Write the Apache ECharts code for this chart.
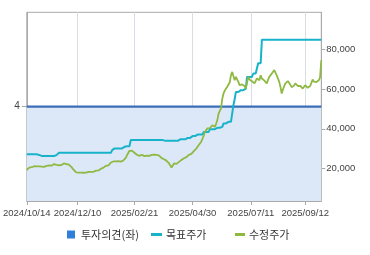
<!DOCTYPE html>
<html><head><meta charset="utf-8">
<script src="https://cdn.jsdelivr.net/npm/echarts@6/dist/echarts.min.js"></script>
<style>html,body{margin:0;padding:0;background:#fff}#c{width:370px;height:255px}</style>
</head><body><div id="c"></div>
<script>
// ---- data ----
const startDate = '2024-10-14';
const pointCount = 239;
const holidays = ['2024-12-25','2024-12-31','2025-01-01','2025-01-27','2025-01-28','2025-01-29','2025-01-30','2025-03-03','2025-05-01','2025-05-05','2025-05-06','2025-06-03','2025-06-06','2025-08-15'];
const tickLabels = ['2024/10/14','2024/12/10','2025/02/21','2025/04/30','2025/07/11','2025/09/12'];
const seriesNames = ['투자의견(좌)','목표주가','수정주가'];
const rightTicks = [20000,40000,60000,80000];
const leftTicks = [4];
const opinionValue = 4;
const targetPrice = [
27100,27100,27100,27100,27100,27100,27100,27100,27100,26800,
26800,26800,26300,26300,26300,26300,26300,26300,26300,26300,
26300,26300,26300,26700,26700,27500,27900,27900,27900,27900,
27900,27900,27900,27900,27900,27900,27900,27900,27900,27900,
27900,27900,27900,27900,27900,27900,27900,27900,27900,27900,
27900,27900,27900,27900,27900,27900,27900,27900,27900,27900,
27900,27900,27900,27900,27900,27900,27900,27900,27900,29200,
30100,30100,30100,30100,30100,30100,30100,30100,30100,30900,
30900,31200,31200,31200,34300,34300,34300,34300,34300,34300,
34300,34300,34300,34300,34300,34300,34300,34300,34300,34300,
34300,34300,34300,34300,34300,34300,34300,34300,34300,34300,
34300,34300,33900,33900,33900,33900,33900,33900,33900,33900,
33900,33900,33900,34700,34700,34700,34700,34700,34700,35400,
35400,35400,35400,35400,36300,36300,36300,36300,37100,37100,
37100,37100,37100,38400,38400,38400,38400,38400,39800,39800,
39800,39800,39800,40500,40500,40500,40500,41000,41000,42700,
42700,42700,42700,43500,43500,43500,44400,51900,55000,58600,
58600,58600,58600,59500,59500,59500,59500,60300,66200,66200,
66200,66200,66200,67900,67900,67900,67900,73100,73100,73100,
85000,85000,85000,85000,85000,85000,85000,85000,85000,85000,
85000,85000,85000,85000,85000,85000,85000,85000,85000,85000,
85000,85000,85000,85000,85000,85000,85000,85000,85000,85000,
85000,85000,85000,85000,85000,85000,85000,85000,85000,85000,
85000,85000,85000,85000,85000,85000,85000,85000,85000
];
const adjPrice = [
19200,19800,20400,20800,20600,20900,21100,20800,21000,21200,
21000,20700,20900,21100,20800,21000,21300,21100,21500,21700,
21400,21900,22200,22100,21800,22000,21600,21900,21700,22300,
22500,22000,22200,21700,21900,21200,20800,20000,19200,18500,
18000,17800,17900,17700,17900,17800,17800,18000,17900,18100,
18200,18000,18300,18500,18300,18700,18900,19200,19000,19500,
19800,20000,20400,20800,21300,21700,21500,22300,23000,23800,
23500,23900,23600,23400,23700,23300,23400,23800,24000,24200,
25300,26700,27800,28900,29600,29000,28400,27900,27300,26900,
26700,26300,26600,26900,26400,26200,26500,26400,26700,26300,
26500,26800,26600,26900,27100,26800,27200,26500,25900,25200,
25000,24600,24200,23800,23200,22500,21600,20500,21500,22500,
21700,22300,22900,23300,23800,24200,24700,25100,25400,25700,
25900,26800,27600,27300,28000,28700,29300,30000,30900,31800,
32700,33500,34300,36500,38500,39300,40200,41000,40300,41200,
41800,41300,41000,42500,44400,47700,49000,50300,55300,57800,
59300,60300,61200,62000,63500,67000,68700,68500,64500,66200,
67000,63700,62000,61100,62400,62900,61600,60300,63200,66200,
64900,64500,64000,63100,62900,64200,65400,64800,64500,67000,
65400,64700,64300,64000,62900,64800,66200,67000,67900,68800,
69600,68700,67000,65300,63700,61100,57800,59800,61500,62900,
63400,64100,63700,62200,61000,60300,61800,62900,62300,61600,
61100,61700,60800,60300,60500,62000,61500,60700,60300,61600,
63200,64900,63800,63000,63600,64200,64500,66000,74600
];

// trading-day categories
function tradingDays(start, n, hol) {
  const out = []; const hs = new Set(hol);
  const d = new Date(start + 'T00:00:00Z');
  while (out.length < n) {
    const wd = d.getUTCDay();
    const iso = d.toISOString().slice(0,10);
    if (wd !== 0 && wd !== 6 && !hs.has(iso)) out.push(iso.replace(/-/g,'/'));
    d.setUTCDate(d.getUTCDate() + 1);
  }
  return out;
}
const categories = tradingDays(startDate, pointCount, holidays);
const labelSet = new Set(tickLabels);
const showAt = (i, v) => labelSet.has(v);

const FONT = '"Liberation Sans",Arial,sans-serif';
const KFONT = '"Noto Sans CJK KR","Noto Sans",sans-serif';

const chart = echarts.init(document.getElementById('c'), null, {renderer: 'canvas'});
chart.setOption({
  animation: false,
  backgroundColor: '#fff',
  grid: {left: 26.7, right: 48.7, top: 12.3, bottom: 54, show: true, borderColor: '#aaaaaa', borderWidth: 1, backgroundColor: 'transparent', containLabel: false},
  legend: [
    {left: 62, top: 224, itemWidth: 8, itemHeight: 8, itemGap: 0,
     textStyle: {fontFamily: KFONT, fontSize: 11, color: '#333', padding: [0,0,0,1]},
     data: [{name: seriesNames[0], icon: 'rect', itemStyle: {color: '#2f7fd9'}}]},
    {left: 146, top: 224, itemWidth: 11, itemHeight: 3, itemGap: 0,
     textStyle: {fontFamily: KFONT, fontSize: 11, color: '#333', padding: [0,0,0,-1]},
     data: [{name: seriesNames[1], icon: 'rect'}]},
    {left: 230, top: 224, itemWidth: 10, itemHeight: 3, itemGap: 0,
     textStyle: {fontFamily: KFONT, fontSize: 11, color: '#333', padding: [0,0,0,-1]},
     data: [{name: seriesNames[2], icon: 'rect'}]}
  ],
  xAxis: {
    type: 'category', data: categories, boundaryGap: false,
    axisLine: {lineStyle: {color: '#aaaaaa'}},
    axisTick: {show: true, interval: showAt, length: 4, lineStyle: {color: '#aaaaaa'}},
    axisLabel: {interval: showAt, showMinLabel: true, hideOverlap: false, margin: 7, fontFamily: FONT, fontSize: 9.5, color: '#444'},
    splitLine: {show: true, interval: showAt, lineStyle: {color: '#d9dee6', width: 1}}
  },
  yAxis: [
    {type: 'value', position: 'left', min: 0, max: 8,
     axisLine: {show: true, lineStyle: {color: '#aaaaaa'}},
     axisTick: {show: true, length: 5, customValues: leftTicks, lineStyle: {color: '#aaaaaa'}},
     axisLabel: {customValues: leftTicks, margin: 7, fontFamily: FONT, fontSize: 10, color: '#444'},
     splitLine: {show: false}},
    {type: 'value', position: 'right', min: 3550, max: 98800,
     axisLine: {show: true, lineStyle: {color: '#aaaaaa'}},
     axisTick: {show: true, length: 4, customValues: rightTicks, lineStyle: {color: '#aaaaaa'}},
     axisLabel: {customValues: rightTicks, margin: 5, fontFamily: FONT, fontSize: 9.5, color: '#444',
       formatter: v => v.toLocaleString('en-US')},
     splitLine: {show: false}}
  ],
  series: [
    {name: seriesNames[0], type: 'line', yAxisIndex: 0, data: categories.map(() => opinionValue),
     showSymbol: false, symbol: 'none', color: '#3a6fb7',
     lineStyle: {color: '#3a6fb7', width: 2.2}, areaStyle: {color: '#dce8f8', opacity: 1}, z: 1},
    {name: seriesNames[1], type: 'line', yAxisIndex: 1, data: targetPrice,
     showSymbol: false, symbol: 'none', color: '#19b3c9',
     lineStyle: {color: '#19b3c9', width: 2}, z: 3},
    {name: seriesNames[2], type: 'line', yAxisIndex: 1, data: adjPrice,
     showSymbol: false, symbol: 'none', color: '#8fb943',
     lineStyle: {color: '#8fb943', width: 1.8}, z: 4}
  ]
});
</script>
</body></html>
